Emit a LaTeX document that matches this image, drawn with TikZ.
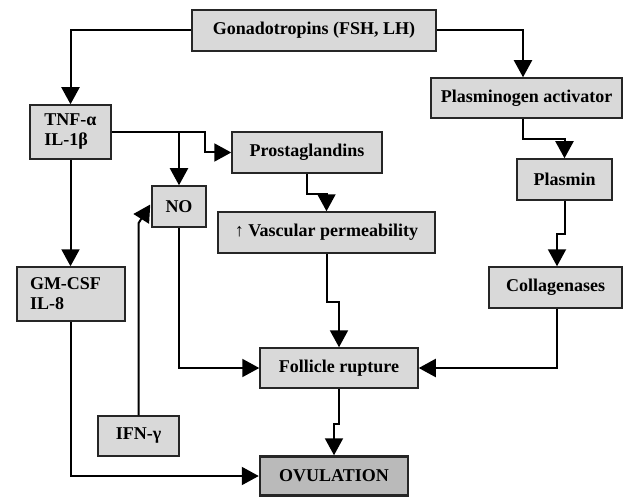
\documentclass[tikz,border=0pt]{standalone}
\usepackage{fontspec}
\setmainfont{Liberation Serif}
\usetikzlibrary{arrows.meta}

\begin{document}
\begin{tikzpicture}[x=1pt,y=-1pt,
                                line width=2pt,
                                arr/.style={-{Triangle[width=18pt,length=17pt]}}]
                \tikzstyle{box}=[rectangle,
                                draw=black!85,
                                line width=1.5pt,
                                fill=black!15,
                                inner sep=0pt,
                                font=\fontsize{18}{20}\selectfont\bfseries]
                \tikzstyle{goal}=[box,
                                line width=2.5pt,
                                fill=black!27]

                \useasboundingbox (0,0) rectangle (623,497);

                \node[box,minimum width=244pt,minimum height=41pt] (gonad) at (314,30.5) {Gonadotropins (FSH, LH)};
                \node[box,minimum width=81pt,minimum height=54pt,align=left] (tnf) at (70.5,132) {TNF-α\\IL-1β};
                \node[box,minimum width=191pt,minimum height=40pt] (pa) at (526.5,98) {Plasminogen activator};
                \node[box,minimum width=150pt,minimum height=41pt] (prost) at (307,152.5) {Prostaglandins};
                \node[box,minimum width=54pt,minimum height=41pt] (no) at (179,206.5) {NO};
                \node[box,minimum width=95pt,minimum height=41pt] (plasmin) at (564.5,179.5) {Plasmin};
                \node[box,minimum width=217pt,minimum height=41pt] (vp) at (326.5,232.5) {{\mdseries↑} Vascular permeability};
                \node[box,minimum height=54pt,text width=82pt,align=left,inner xsep=13pt] (gmcsf) at (71,294) {GM-CSF\\IL-8};
                \node[box,minimum width=133pt,minimum height=41pt] (coll) at (555.5,287.5) {Collagenases};
                \node[box,minimum width=158pt,minimum height=40pt] (foll) at (339,368) {Follicle rupture};
                \node[box,minimum width=81pt,minimum height=40pt] (ifn) at (138.5,436) {IFN-γ};
                \node[goal,minimum width=148pt,minimum height=39pt] (ovul) at (334,476) {OVULATION};

                \coordinate (nohook) at ([xshift=-1pt,yshift=2pt]no.west);

                % gonadotropins
                \draw[arr] (gonad.west) -| (tnf.north);
                \draw[arr] (gonad.east) -| ([xshift=-3.5pt]pa.north);
                % proteolytic branch
                \draw[arr] ([xshift=-3.5pt]pa.south) -- ++(0,20) -| (plasmin.north);
                \draw[arr] (plasmin.south) -- ++(0,33) -| ([xshift=1.5pt]coll.north);
                \draw[arr] ([xshift=1.5pt]coll.south) |- (foll.east);
                % cytokines
                \draw[arr] (tnf.east) -- ++(93,0) |- (prost.west);
                \draw[arr] (tnf.east -| no.north) -- (no.north);
                \draw[arr] (tnf.south) -- (tnf.south |- gmcsf.north);
                \draw[arr] (prost.south) -- ++(0,20) -| (vp.north);
                \draw[arr] (vp.south) -- ++(0,48) -| (foll.north);
                \draw[arr] (no.south) |- (foll.west);
                \draw[arr] (ifn.north) -- ++(0,-192) -- (nohook);
                \draw[arr] (gmcsf.south) |- (ovul.west);
                \draw[arr] (foll.south) -- ++(0,35) -| (ovul.north);
            \end{tikzpicture}
\end{document}
